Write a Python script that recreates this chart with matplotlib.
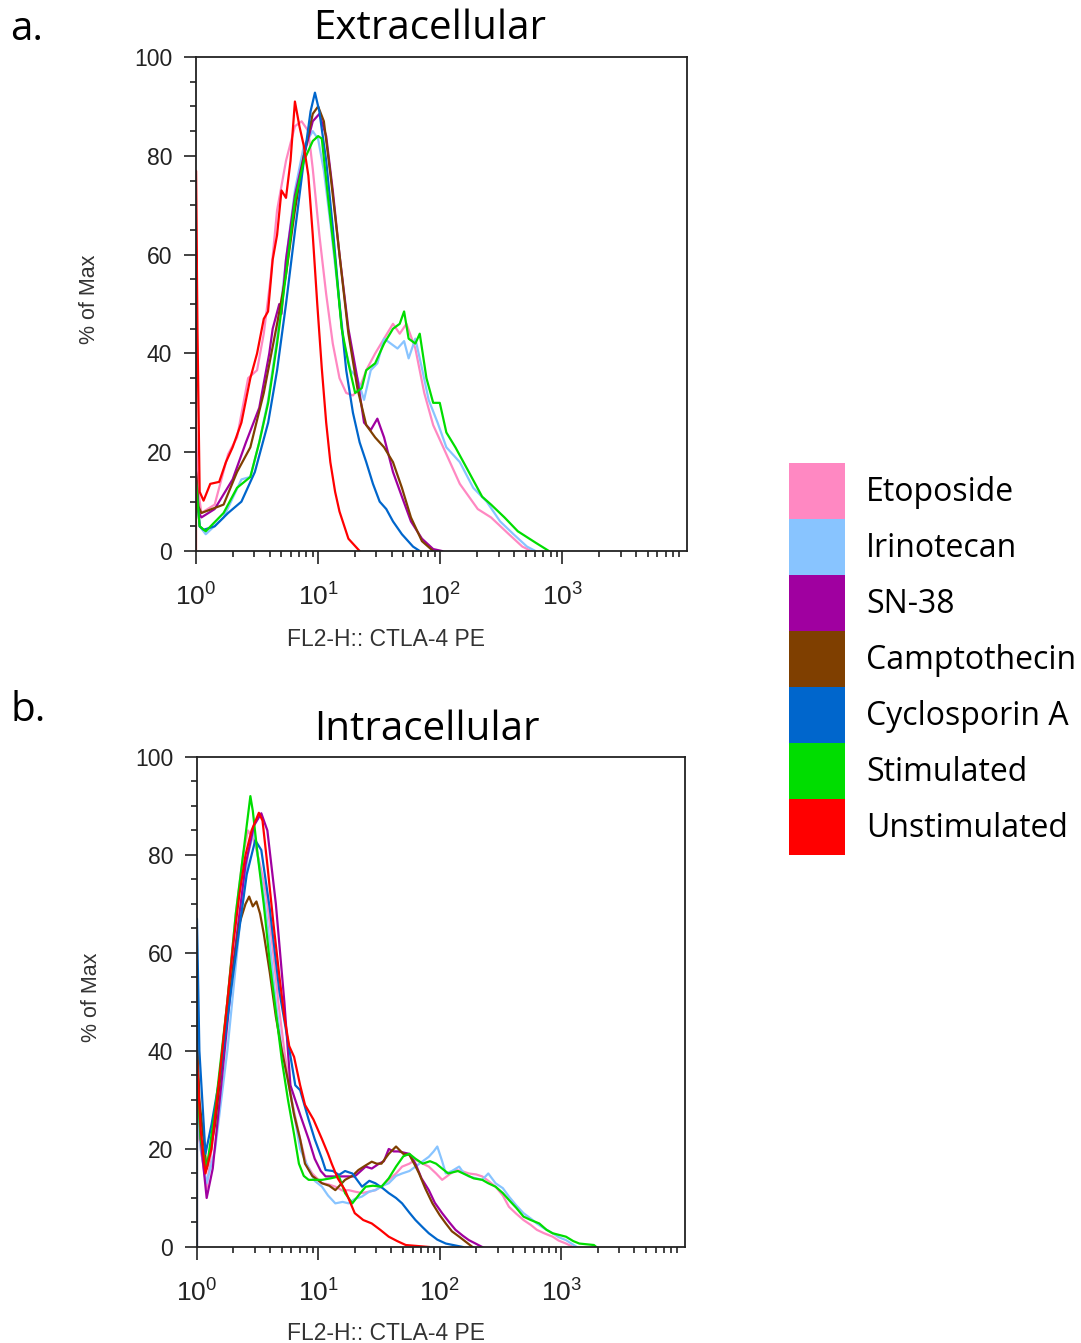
import numpy as np
import matplotlib
matplotlib.use('Agg')
import matplotlib.pyplot as plt
from matplotlib.patches import Patch
from matplotlib.ticker import FixedLocator, LogLocator, MultipleLocator, NullFormatter

plt.rcParams['font.family'] = ['Liberation Sans', 'DejaVu Sans']
plt.rcParams['mathtext.fontset'] = 'custom'
plt.rcParams['mathtext.rm'] = 'Liberation Sans'
plt.rcParams['mathtext.it'] = 'Liberation Sans'

# Legend entries (top to bottom) and their colours
labels = ['Etoposide', 'Irinotecan', 'SN-38', 'Camptothecin',
          'Cyclosporin A', 'Stimulated', 'Unstimulated']
colors = ['#ff88c2', '#88c4ff', '#a000a0', '#7f3f00',
          '#0066cc', '#00dd00', '#ff0000']

# Histogram traces: columns = log10(FL2-H), % of Max
# ---- a. Extracellular ----
ext_etoposide = np.array([
    [0.0, 24], [0.02, 12], [0.044, 7.7], [0.153, 9.4], [0.263, 19.6], [0.336, 23],
    [0.427, 35], [0.5, 36.6], [0.555, 44], [0.61, 55], [0.664, 69], [0.737, 79],
    [0.81, 86], [0.865, 87], [0.92, 85], [0.956, 77.4], [1.01, 64], [1.066, 52],
    [1.12, 42], [1.175, 35], [1.23, 32], [1.285, 31.5], [1.34, 33], [1.394, 36.6],
    [1.467, 40], [1.54, 43], [1.613, 46], [1.668, 44], [1.723, 46], [1.796, 41],
    [1.869, 32], [1.942, 25.5], [2.05, 19.6], [2.16, 13.6], [2.307, 8.5],
    [2.416, 6.8], [2.562, 3.4], [2.672, 0.9], [2.745, 0]])
ext_irinotecan = np.array([
    [0.0, 14], [0.03, 5], [0.08, 3.4], [0.226, 6.8], [0.372, 14.5], [0.445, 15],
    [0.518, 22], [0.591, 30.6], [0.664, 43], [0.737, 59], [0.81, 73], [0.883, 82],
    [0.956, 85], [1.0, 83.4], [1.047, 77], [1.102, 66], [1.157, 54], [1.212, 42],
    [1.266, 36.6], [1.321, 35], [1.376, 30.6], [1.431, 36.6], [1.485, 38],
    [1.54, 43], [1.595, 42], [1.65, 41], [1.704, 42.5], [1.741, 39], [1.796, 43],
    [1.85, 37], [1.905, 30.6], [1.978, 26], [2.05, 21], [2.16, 18], [2.27, 12.8],
    [2.38, 10], [2.49, 6], [2.6, 3.4], [2.71, 0.9], [2.78, 0]])
ext_sn38 = np.array([
    [0.0, 16], [0.02, 8], [0.044, 6.8], [0.153, 8.5], [0.3, 14.5], [0.409, 22],
    [0.518, 29], [0.6, 40], [0.628, 45], [0.682, 50], [0.7, 48], [0.737, 59],
    [0.81, 72], [0.883, 80], [0.956, 87], [1.01, 88.5], [1.066, 84], [1.12, 73],
    [1.175, 60], [1.248, 45], [1.321, 35], [1.376, 26], [1.431, 24.5],
    [1.485, 26.8], [1.54, 23], [1.613, 16], [1.686, 11], [1.76, 6], [1.85, 2.5],
    [1.942, 0.4], [2.015, 0]])
ext_camptothecin = np.array([
    [0.0, 16], [0.02, 9], [0.044, 7.7], [0.226, 9.4], [0.336, 16], [0.445, 21],
    [0.555, 32], [0.664, 46], [0.737, 56], [0.81, 69], [0.883, 80], [0.956, 88.5],
    [1.0, 90], [1.047, 87], [1.102, 76], [1.175, 60], [1.248, 44], [1.321, 33],
    [1.394, 25.5], [1.467, 23], [1.54, 21], [1.613, 18], [1.686, 12.8],
    [1.76, 6.8], [1.85, 2], [1.942, 0]])
ext_cyclosporin = np.array([
    [0.0, 14], [0.03, 5], [0.062, 4.3], [0.153, 5], [0.263, 7.7], [0.372, 10],
    [0.482, 16], [0.591, 26], [0.664, 36.6], [0.737, 50], [0.81, 64.7],
    [0.883, 79], [0.938, 89], [0.974, 92.8], [1.01, 89], [1.066, 79],
    [1.12, 65.5], [1.175, 50], [1.23, 36.6], [1.285, 28], [1.34, 22],
    [1.394, 18], [1.449, 13.6], [1.504, 10], [1.558, 8.5], [1.613, 6],
    [1.686, 3.4], [1.777, 0.9], [1.832, 0]])
ext_stimulated = np.array([
    [0.0, 14], [0.03, 5], [0.08, 4], [0.226, 7.7], [0.336, 12.8], [0.445, 15],
    [0.518, 22], [0.591, 30], [0.664, 42], [0.737, 56], [0.81, 71], [0.883, 79],
    [0.956, 83], [1.0, 84], [1.03, 83.5], [1.084, 71], [1.139, 59], [1.193, 45],
    [1.248, 38], [1.303, 32], [1.358, 33], [1.394, 36.6], [1.467, 38],
    [1.54, 42], [1.613, 45], [1.668, 46], [1.704, 48.5], [1.741, 43],
    [1.796, 42], [1.832, 44], [1.887, 35], [1.942, 30], [1.996, 30], [2.05, 24],
    [2.124, 21], [2.234, 16], [2.343, 11], [2.416, 9.4], [2.526, 6.8],
    [2.635, 4], [2.78, 1.7], [2.89, 0]])
ext_unstimulated = np.array([
    [0.0, 0], [0.0, 77], [0.012, 45], [0.03, 12], [0.062, 10.2], [0.117, 13.6],
    [0.19, 14], [0.245, 18], [0.3, 21], [0.372, 26], [0.445, 35], [0.5, 40],
    [0.555, 47], [0.59, 48.5], [0.628, 59], [0.664, 64], [0.7, 73], [0.737, 71.5],
    [0.774, 79], [0.81, 91], [0.847, 86], [0.883, 82], [0.92, 76], [0.956, 64],
    [0.993, 50], [1.03, 37], [1.066, 26], [1.1, 18], [1.139, 12], [1.175, 8],
    [1.248, 2.5], [1.34, 0]])

# ---- b. Intracellular ----
int_etoposide = np.array([
    [0.0, 0], [0.0, 42], [0.02, 22], [0.08, 12], [0.15, 26], [0.25, 50],
    [0.32, 68], [0.38, 80], [0.42, 85], [0.47, 83], [0.52, 78], [0.57, 72],
    [0.62, 62], [0.67, 50], [0.72, 40], [0.78, 30], [0.85, 22], [0.9, 17],
    [0.95, 15], [1.03, 13], [1.08, 12.8], [1.14, 12.3], [1.2, 11.5], [1.25, 11.6],
    [1.3, 11.3], [1.36, 11], [1.42, 11.3], [1.47, 11.6], [1.53, 12.5],
    [1.58, 13.7], [1.64, 15], [1.69, 16.4], [1.75, 17], [1.8, 17.8], [1.86, 17],
    [1.91, 16.4], [1.97, 15], [2.02, 13.7], [2.08, 14.8], [2.13, 15.7],
    [2.18, 15.5], [2.24, 15], [2.3, 14.8], [2.35, 14.4], [2.4, 13.5],
    [2.46, 12.3], [2.52, 10.5], [2.57, 8.2], [2.63, 6.8], [2.69, 5.5],
    [2.75, 4.5], [2.8, 3.5], [2.86, 2.8], [2.93, 2.1], [2.98, 1.3], [3.04, 0.7],
    [3.1, 0]])
int_irinotecan = np.array([
    [0.0, 30], [0.03, 20], [0.08, 13], [0.15, 20], [0.25, 40], [0.35, 65],
    [0.42, 80], [0.47, 85], [0.5, 80], [0.55, 72], [0.6, 62], [0.65, 50],
    [0.7, 40], [0.78, 30], [0.85, 20], [0.92, 16], [0.97, 13.5], [1.03, 12.3],
    [1.08, 10.5], [1.14, 8.9], [1.2, 9.2], [1.25, 8.9], [1.3, 9.8], [1.36, 10.3],
    [1.42, 11.3], [1.47, 11.6], [1.53, 12.5], [1.58, 13], [1.64, 14.5],
    [1.69, 15], [1.75, 15.5], [1.8, 16.4], [1.86, 17.5], [1.91, 18.4],
    [1.95, 19.5], [1.98, 20.5], [2.02, 17.5], [2.05, 15], [2.1, 15.5],
    [2.16, 16.4], [2.2, 15], [2.24, 14.4], [2.3, 14], [2.35, 13.7], [2.4, 15],
    [2.46, 13], [2.52, 12], [2.57, 10.3], [2.63, 8.5], [2.69, 6.9], [2.75, 5.8],
    [2.8, 4.8], [2.86, 3.8], [2.93, 2.8], [2.98, 2], [3.04, 1.4], [3.13, 0]])
int_sn38 = np.array([
    [0.0, 40], [0.03, 22], [0.08, 10], [0.13, 16], [0.2, 33], [0.3, 58],
    [0.4, 78], [0.47, 86], [0.53, 88.5], [0.58, 85], [0.65, 70], [0.72, 50],
    [0.77, 33], [0.85, 27], [0.92, 22], [0.97, 18], [1.02, 15.5], [1.06, 14.4],
    [1.17, 14.4], [1.3, 14.4], [1.39, 16.4], [1.44, 16], [1.5, 17], [1.54, 17.5],
    [1.58, 20], [1.62, 19.5], [1.66, 19.5], [1.75, 19], [1.8, 17], [1.85, 14],
    [1.91, 11.6], [1.96, 9], [2.02, 6.9], [2.08, 5], [2.13, 3.5], [2.19, 2.3],
    [2.24, 1.4], [2.35, 0]])
int_camptothecin = np.array([
    [0.0, 0], [0.0, 44], [0.02, 30], [0.08, 16], [0.15, 25], [0.25, 48],
    [0.35, 66], [0.4, 70], [0.43, 71.5], [0.46, 69.5], [0.49, 70.5], [0.52, 68],
    [0.55, 64], [0.6, 56], [0.65, 47], [0.7, 40], [0.75, 34], [0.8, 27],
    [0.85, 22], [0.89, 17], [0.95, 14.5], [1.03, 13], [1.09, 12.5], [1.14, 11.6],
    [1.22, 13.7], [1.28, 14.5], [1.33, 15.7], [1.38, 16.5], [1.44, 17.4],
    [1.48, 17], [1.52, 17], [1.58, 19], [1.64, 20.5], [1.7, 19], [1.75, 18.8],
    [1.8, 16.5], [1.83, 15], [1.88, 12], [1.94, 8.9], [2.0, 6.5], [2.05, 4.8],
    [2.1, 3.2], [2.16, 2.1], [2.27, 0]])
int_cyclosporin = np.array([
    [0.0, 0], [0.0, 67], [0.02, 40], [0.07, 19], [0.12, 25], [0.19, 35],
    [0.3, 56], [0.41, 76], [0.48, 83], [0.53, 81], [0.6, 69], [0.68, 52],
    [0.77, 39], [0.81, 33], [0.85, 32], [0.92, 26], [0.97, 22], [1.03, 18],
    [1.06, 15.7], [1.12, 15.5], [1.17, 14.7], [1.22, 15.5], [1.28, 15],
    [1.36, 12.3], [1.42, 13.5], [1.47, 13], [1.53, 12], [1.58, 11], [1.64, 10],
    [1.69, 8.9], [1.75, 7], [1.8, 5.5], [1.86, 4], [1.91, 2.8], [1.98, 1.5],
    [2.05, 0.7], [2.19, 0]])
int_stimulated = np.array([
    [0.0, 35], [0.03, 22], [0.08, 16], [0.15, 28], [0.25, 50], [0.32, 68],
    [0.38, 80], [0.42, 88], [0.44, 92], [0.46, 89], [0.5, 80], [0.55, 70],
    [0.6, 58], [0.65, 48], [0.7, 38], [0.75, 30], [0.8, 23], [0.84, 17],
    [0.88, 14.5], [0.92, 13.7], [1.03, 13.7], [1.1, 14], [1.17, 14.4], [1.22, 11],
    [1.28, 8.9], [1.33, 10.5], [1.39, 12.3], [1.45, 12.5], [1.52, 12.3],
    [1.58, 14], [1.64, 16.4], [1.7, 18.5], [1.75, 19], [1.8, 18], [1.86, 17],
    [1.92, 17.5], [1.97, 17], [2.02, 16], [2.07, 15], [2.15, 15.5], [2.22, 14.7],
    [2.28, 14], [2.35, 13.7], [2.4, 13], [2.46, 12.3], [2.52, 11], [2.57, 9.6],
    [2.63, 8], [2.69, 6.2], [2.75, 5.5], [2.82, 4.8], [2.88, 3.5], [2.93, 2.8],
    [3.04, 2.1], [3.1, 1.2], [3.15, 0.7], [3.27, 0.4], [3.29, 0]])
int_unstimulated = np.array([
    [0.0, 38], [0.03, 24], [0.07, 15], [0.12, 20], [0.2, 38], [0.3, 62],
    [0.35, 72], [0.4, 80], [0.45, 85], [0.51, 88.6], [0.54, 87], [0.58, 78],
    [0.63, 66], [0.68, 55], [0.72, 47], [0.76, 41], [0.8, 38.8], [0.85, 33],
    [0.89, 29], [0.96, 26], [1.03, 22], [1.08, 19], [1.11, 17], [1.16, 14],
    [1.22, 11.6], [1.3, 6.9], [1.37, 5.5], [1.44, 4.8], [1.51, 3.5], [1.58, 2.1],
    [1.65, 1.2], [1.72, 0.4], [1.91, 0]])

ext_traces = [ext_etoposide, ext_irinotecan, ext_sn38, ext_camptothecin,
              ext_cyclosporin, ext_stimulated, ext_unstimulated]
int_traces = [int_etoposide, int_irinotecan, int_sn38, int_camptothecin,
              int_cyclosporin, int_stimulated, int_unstimulated]

fig = plt.figure(figsize=(10.81, 13.43), dpi=100)
ax_a = fig.add_axes([0.1813, 0.5897, 0.4542, 0.3678])
ax_b = fig.add_axes([0.1822, 0.0715, 0.4514, 0.3649])


def style_axis(ax, ylab_x, xlab_x, xlab_y):
    ax.set_xscale('log')
    ax.set_xlim(1, 10 ** 4.02)
    ax.set_ylim(0, 100)
    ax.xaxis.set_major_locator(FixedLocator([1, 10, 100, 1000]))
    ax.xaxis.set_minor_locator(LogLocator(base=10, subs=np.arange(2, 10), numticks=20))
    ax.xaxis.set_minor_formatter(NullFormatter())
    ax.set_xticklabels([r'$\mathregular{10^{0}}$', r'$\mathregular{10^{1}}$',
                        r'$\mathregular{10^{2}}$', r'$\mathregular{10^{3}}$'])
    ax.yaxis.set_major_locator(MultipleLocator(20))
    ax.yaxis.set_minor_locator(MultipleLocator(5))
    ax.tick_params(which='major', direction='out', length=9, width=1.2,
                   colors='#222222')
    ax.tick_params(which='minor', direction='out', length=4.3, width=1.2, colors='#222222')
    ax.tick_params(axis='y', which='major', pad=8, labelsize=16.5)
    ax.tick_params(axis='x', which='major', pad=14, labelsize=19)
    for sp in ax.spines.values():
        sp.set_linewidth(1.3)
        sp.set_color('#222222')
    ax.set_ylabel('% of Max', fontsize=15.5, color='#333333')
    ax.yaxis.set_label_coords(ylab_x, 0.51)
    ax.set_xlabel('FL2-H:: CTLA-4 PE', fontsize=16.5, color='#333333')
    ax.xaxis.set_label_coords(xlab_x, xlab_y)


for ax, traces in [(ax_a, ext_traces), (ax_b, int_traces)]:
    for tr, col in zip(traces, colors):
        ax.plot(10 ** tr[:, 0], tr[:, 1], color=col, lw=1.6)

style_axis(ax_a, -0.196, 0.387, -0.156)
style_axis(ax_b, -0.195, 0.387, -0.153)

# panel titles and letters
title_font = ['Open Sans', 'DejaVu Sans']
fig.text(430 / 1081, 1 - 29 / 1343, 'Extracellular', fontsize=29, family=title_font,
         ha='center', va='center')
fig.text(427 / 1081, 1 - 730 / 1343, 'Intracellular', fontsize=29, family=title_font,
         ha='center', va='center')
fig.text(10 / 1081, 1 - 30 / 1343, 'a.', fontsize=29, family=title_font, va='center')
fig.text(10 / 1081, 1 - 711 / 1343, 'b.', fontsize=29, family=title_font, va='center')

# colour key: contiguous 56 px swatches
key_size = 23
key_px = key_size * 100 / 72
hh = (56 / key_px - 0.245) / 0.65
handles = [Patch(facecolor=c, edgecolor='none') for c in colors]
fig.legend(handles, labels, loc='upper left', bbox_to_anchor=(789 / 1081, 1 - 463 / 1343),
           frameon=False, prop={'family': title_font, 'size': key_size},
           handlelength=56 / key_px, handleheight=hh, labelspacing=0,
           handletextpad=0.66, borderpad=0, borderaxespad=0)

fig.savefig('out.png', dpi=100)
